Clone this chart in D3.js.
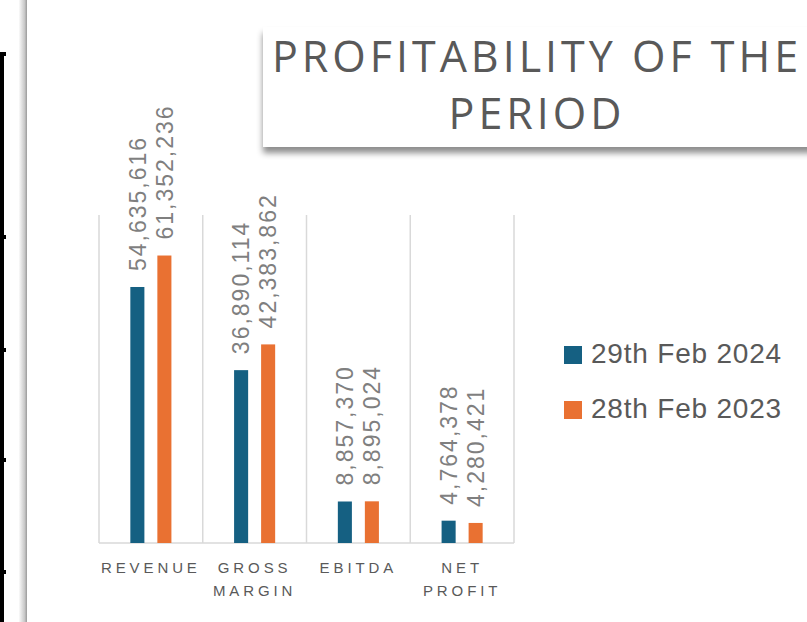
<!DOCTYPE html>
<html>
<head>
<meta charset="utf-8">
<script src="https://cdn.jsdelivr.net/npm/d3@7"></script>
<style>
  body { margin: 0; background: #fff; }
  svg { display: block; }
</style>
</head>
<body>
<svg width="807" height="622"></svg>
<script>
// profitability chart
var categories = [['REVENUE'], ['GROSS', 'MARGIN'], ['EBITDA'], ['NET', 'PROFIT']];
var seriesNames = ['29th Feb 2024', '28th Feb 2023'];
var values2024 = [54635616, 36890114, 8857370, 4764378];
var values2023 = [61352236, 42383862, 8895024, 4280421];
var seriesColors = ['#156082', '#E97132'];
var titleLines = ['PROFITABILITY OF THE', 'PERIOD'];

var svg = d3.select('svg');
var width = +svg.attr('width');
var height = +svg.attr('height');

var plot = { left: 99, right: 514, top: 215, bottom: 543 };

var defs = svg.append('defs');
var shadow = defs.append('filter').attr('id', 'shadow')
  .attr('x', '-10%').attr('y', '-10%').attr('width', '130%').attr('height', '140%');
shadow.append('feDropShadow')
  .attr('dx', 0).attr('dy', 6).attr('stdDeviation', 3)
  .attr('flood-color', '#000').attr('flood-opacity', 0.45);

var grad = defs.append('linearGradient').attr('id', 'edge');
grad.append('stop').attr('offset', '0%').attr('stop-color', '#fafafa');
grad.append('stop').attr('offset', '70%').attr('stop-color', '#c8c8c8');
grad.append('stop').attr('offset', '100%').attr('stop-color', '#9a9a9a');

// left page edge bits
svg.append('rect').attr('x', 19).attr('y', 0).attr('width', 8).attr('height', height)
  .attr('fill', 'url(#edge)');
svg.append('rect').attr('x', 0).attr('y', 52).attr('width', 4).attr('height', height - 52)
  .attr('fill', '#000');
svg.selectAll('rect.tick').data([52, 235, 348, 458, 570]).enter().append('rect')
  .attr('class', 'tick')
  .attr('x', 0).attr('y', function(d) { return d; })
  .attr('width', 6).attr('height', 4).attr('fill', '#000');

// title box
svg.append('rect')
  .attr('x', 263).attr('y', 27).attr('width', 600).attr('height', 120)
  .attr('fill', '#fff').attr('filter', 'url(#shadow)');

svg.append('g').selectAll('text').data(titleLines).enter().append('text')
  .attr('x', 537)
  .attr('y', function(d, i) { return 72 + i * 57; })
  .attr('text-anchor', 'middle')
  .attr('font-family', '"Open Sans", sans-serif')
  .attr('font-size', 43)
  .attr('letter-spacing', 4)
  .attr('fill', '#595959')
  .text(function(d) { return d; });

var data = categories.map(function(c, i) {
  return { label: c, values: [values2024[i], values2023[i]] };
});

var x0 = d3.scaleBand()
  .domain(d3.range(categories.length))
  .range([plot.left, plot.right]);

var x1 = d3.scaleBand()
  .domain(d3.range(seriesNames.length))
  .range([0, x0.bandwidth()])
  .paddingInner(0.48)
  .paddingOuter(1.16);

var y = d3.scaleLinear()
  .domain([0, 70000000])
  .range([plot.bottom, plot.top]);

// gridlines
var grid = svg.append('g');
grid.selectAll('line.v').data(d3.range(categories.length + 1)).enter().append('line')
  .attr('class', 'v')
  .attr('x1', function(i) { return plot.left + i * x0.step(); })
  .attr('x2', function(i) { return plot.left + i * x0.step(); })
  .attr('y1', plot.top).attr('y2', plot.bottom)
  .attr('stroke', '#d9d9d9').attr('stroke-width', 1.5);
grid.append('line')
  .attr('x1', plot.left).attr('x2', plot.right)
  .attr('y1', plot.bottom).attr('y2', plot.bottom)
  .attr('stroke', '#d9d9d9').attr('stroke-width', 1.5);

var groups = svg.selectAll('g.cat').data(data).enter().append('g')
  .attr('class', 'cat')
  .attr('transform', function(d, i) { return 'translate(' + x0(i) + ',0)'; });

var bars = groups.selectAll('g.bar')
  .data(function(d) { return d.values; })
  .enter().append('g').attr('class', 'bar');

bars.append('rect')
  .attr('x', function(v, j) { return x1(j); })
  .attr('y', function(v) { return y(v); })
  .attr('width', x1.bandwidth())
  .attr('height', function(v) { return y(0) - y(v); })
  .attr('fill', function(v, j) { return seriesColors[j]; });

bars.append('text')
  .attr('transform', function(v, j) {
    return 'translate(' + (x1(j) + x1.bandwidth() / 2) + ',' + (y(v) - 16) + ') rotate(-90)';
  })
  .attr('dy', '0.36em')
  .attr('font-family', '"Liberation Sans", Arial, sans-serif')
  .attr('font-size', 23)
  .attr('letter-spacing', 2)
  .attr('fill', '#7f7f7f')
  .text(function(v) { return d3.format(',')(v); });

// category labels
groups.append('text')
  .attr('text-anchor', 'middle')
  .attr('font-family', '"Liberation Sans", Arial, sans-serif')
  .attr('font-size', 15)
  .attr('letter-spacing', 3.9)
  .attr('fill', '#595959')
  .selectAll('tspan')
  .data(function(d) { return d.label; })
  .enter().append('tspan')
  .attr('x', x0.bandwidth() / 2)
  .attr('y', function(d, i) { return 573 + i * 23; })
  .text(function(d) { return d; });

// legend
var legend = svg.selectAll('g.legend').data(seriesNames).enter().append('g')
  .attr('class', 'legend')
  .attr('transform', function(d, i) { return 'translate(564,' + (346 + i * 55) + ')'; });
legend.append('rect')
  .attr('width', 18).attr('height', 18)
  .attr('fill', function(d, i) { return seriesColors[i]; });
legend.append('text')
  .attr('x', 27).attr('y', 17)
  .attr('font-family', '"Liberation Sans", Arial, sans-serif')
  .attr('font-size', 28)
  .attr('letter-spacing', 0.8)
  .attr('fill', '#595959')
  .text(function(d) { return d; });
</script>
</body>
</html>
